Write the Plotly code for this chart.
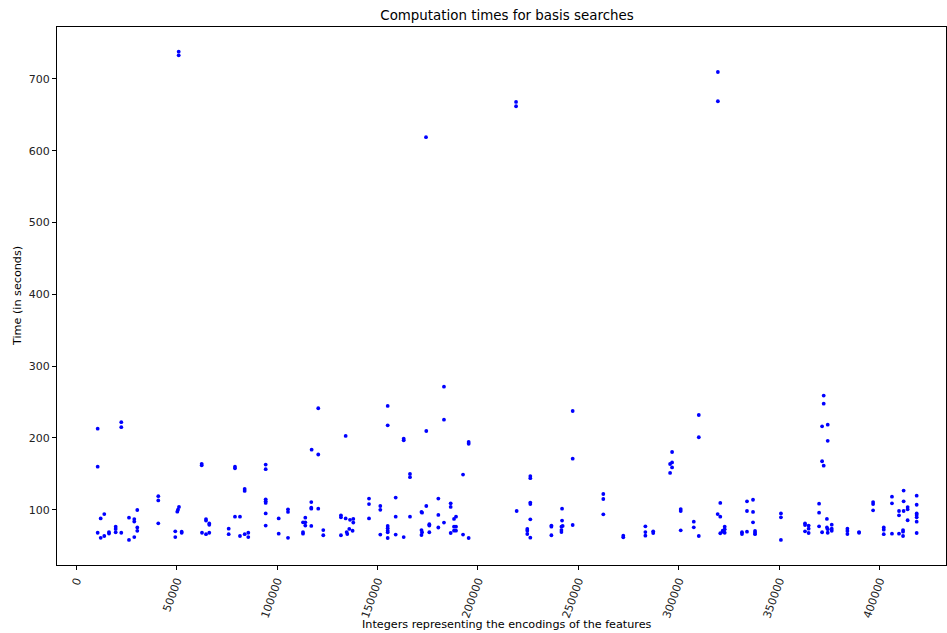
import plotly.graph_objects as go

# Encodings (x) and computation times in seconds (y)
encodings = [
    10660, 22410, 22410, 10660, 62450, 62450, 40840, 40840, 12150, 13940, 10660, 12150, 13940, 16290, 16290,
    19620, 19620, 19620, 22410, 26250, 26250, 28880, 28880, 28880, 30380, 30380, 30380, 40840, 49300, 49300,
    50300, 50650, 51150, 52490, 52490, 62600, 64600, 64600, 66230, 66230, 64600, 66230, 51000, 51000,
    75900, 75900, 79030, 79030, 79030, 81520, 81520, 83860, 83860, 83860, 85660, 85660, 94320, 94320, 94320,
    94320, 94320, 94320, 94320, 100800, 100800, 105430, 105430, 105430, 112900, 112900, 112900, 114050,
    114050, 114050, 117030, 117030, 117030, 117030, 117200, 120500, 120500, 120500, 123000, 123000, 134150,
    131800, 131800, 131800, 134150, 134650, 134950, 135950, 136300, 137950, 137950, 137600,
    145770, 145770, 145770, 151400, 151400, 151400, 155080, 155080, 155080, 155080, 155080, 155080, 155080,
    159060, 159060, 159060, 163050, 163050, 163050, 166180, 166180, 166180, 171900, 172200, 171900, 172200,
    171900, 174300, 174300, 175800, 175800, 175800, 180300, 180300, 180300, 183100, 183100, 183100, 186450,
    186450, 186450, 188100, 189100, 188100, 189100, 188100, 189100, 192600, 192600, 195400, 195400, 195400,
    174150,
    219300, 226100, 226100, 226100, 226100, 226100, 224600, 224600, 224600, 226100, 236600, 236600, 236600,
    241900, 241900, 241600, 242200, 241600, 241600, 247200, 247200, 247200, 262450, 262450, 262450, 272400,
    272400, 219000, 219000,
    283400, 283400, 283400, 287300, 287300, 296700, 295700, 296700, 296700, 295700, 301000, 301000, 301000,
    307500, 307500, 310000, 310000, 310000, 320700, 319400, 320700, 320700, 321900, 322900, 322900, 321900,
    322900, 331500, 331500, 334000, 334000, 334000, 337000, 337000, 337000, 338000, 338000, 338000,
    319500, 319500,
    350900, 350900, 350900, 362900, 362900, 364700, 364700, 362900, 364700, 372200, 372200, 371400, 374200,
    374200, 371400, 372200, 369900, 369900, 369900, 371400, 373800, 373800, 374200, 374200, 376200, 376200,
    376200, 384000, 384000, 384000, 389800, 389800, 396800, 396800, 396800, 402100, 402100, 402100, 406200,
    406200, 406200, 409700, 409700, 409700, 412000, 412000, 412000, 411700, 411700, 411700, 414000, 414000,
    414000, 418500, 418500, 418500, 418500, 418500, 418500, 418500,
]

times = [
    213, 222, 215, 160, 164, 162, 119, 113, 88, 94, 68, 61, 63.5, 69, 67,
    76.5, 73.3, 68.7, 68, 89, 58, 87, 83.6, 62, 99.7, 75.3, 70.7, 81.2, 70, 62,
    97.4, 100.1, 104, 69.5, 68, 68, 87, 85, 81, 79, 66, 68, 738, 733,
    73.7, 66, 160, 157.8, 90.4, 90.4, 63.5, 66, 129, 126.2, 68, 62, 163, 156.6, 114.6,
    111.8, 109.5, 95, 78, 88, 66.7, 100.7, 97, 61, 82.6, 69, 66.7, 89,
    82.6, 78, 110.8, 103, 101.5, 77.5, 183.7, 177, 241.4, 101.5, 71.8, 64.5, 202.8,
    92.3, 89.5, 64.5, 88, 69, 66.3, 73.3, 86, 87.3, 82.2, 70.8,
    115.6, 108, 88, 105.3, 100, 65.5, 244.6, 217.7, 77.5, 74.4, 70.9, 68.7, 60.7,
    117, 90.4, 65.5, 199, 196.8, 62, 150, 145.4, 90.4, 97, 96, 71.8, 68.7,
    64.9, 209.7, 105.3, 80, 78, 68.7, 115.6, 92.8, 75.3, 271.5, 225.5, 82.2, 109,
    104, 67.7, 87.3, 90.4, 76.5, 76.5, 70.9, 70.9, 149, 65.5, 194.4, 192, 60.7,
    619,
    98.3, 147, 144, 110, 108, 86.7, 73.3, 70.9, 66.3, 61.2, 78, 76.5, 64.5,
    101.5, 85, 76.5, 77.5, 71.8, 69, 237.6, 171.2, 78.8, 122, 115, 93.7, 63.9,
    61.7, 668, 662,
    77, 69, 63.9, 70, 67.7, 180.5, 163.8, 166, 159, 151.3, 101, 98.3, 71.4,
    83.4, 75.6, 232, 201, 63.5, 109.5, 94, 90.4, 67.3, 69.5, 76.5, 72.8, 70.9,
    68, 68.7, 66.3, 69.5, 111.8, 98.3, 114, 97, 82.6, 70.5, 68, 66,
    709.7, 669,
    95, 89.5, 58, 81.2, 78.8, 78, 73.7, 70, 67.7, 259, 247.8, 216.3, 218.5,
    196, 167.6, 161.4, 108.5, 96, 77, 68.7, 87.3, 75.3, 73, 68, 79.3, 73.7,
    70.8, 73.7, 70.5, 66.3, 69, 68, 110.8, 108, 99.3, 75.3, 72.3, 66, 118.3,
    109, 66.7, 98.3, 92.3, 66.7, 126.7, 111.8, 98.3, 71.8, 69.5, 63.5, 103.8, 100.7,
    85.4, 119.7, 107, 95, 92.8, 89.5, 83.4, 67.7,
]

x_ticks = [0, 50000, 100000, 150000, 200000, 250000, 300000, 350000, 400000]
y_ticks = [100, 200, 300, 400, 500, 600, 700]

FONT = "DejaVu Sans"
W, H = 947, 633
ML, MR, MT, MB = 57, 1, 27, 68
PW, PH = W - ML - MR, H - MT - MB

fig = go.Figure(
    go.Scatter(
        x=encodings, y=times, mode="markers",
        marker=dict(color="#0000ff", size=3.8, line=dict(width=0)),
        hoverinfo="x+y",
    )
)

axis_common = dict(
    showline=True, linecolor="black", linewidth=1, mirror=True,
    ticks="outside", ticklen=4, tickcolor="black", tickwidth=1,
    showgrid=False, zeroline=False, automargin=False,
    tickfont=dict(family=FONT, size=11, color="#222222"),
)

fig.update_layout(
    width=W, height=H,
    margin=dict(l=ML, r=MR, t=MT, b=MB, autoexpand=False),
    plot_bgcolor="white", paper_bgcolor="white",
    showlegend=False,
    title=dict(text="Computation times for basis searches", x=507 / W, xanchor="center",
               y=1 - 15 / H, yanchor="middle", font=dict(family=FONT, size=13.4, color="black")),
    xaxis=dict(**axis_common, range=[-9600, 433100], tickvals=x_ticks,
               ticktext=[str(v) for v in x_ticks], tickangle=-70),
    yaxis=dict(**axis_common, range=[23.1, 772.4], tickvals=y_ticks,
               ticktext=[str(v) for v in y_ticks]),
    annotations=[
        dict(text="Integers representing the encodings of the features", xref="paper", yref="paper",
             x=(507 - ML) / PW, y=-(624 - (MT + PH)) / PH, xanchor="center", yanchor="middle",
             showarrow=False, font=dict(family=FONT, size=11.2, color="black")),
        dict(text="Time (in seconds)", xref="paper", yref="paper",
             x=-(ML - 17) / PW, y=0.5, xanchor="center", yanchor="middle", textangle=-90,
             showarrow=False, font=dict(family=FONT, size=11.2, color="black")),
    ],
)

fig.write_html(
    "out.html",
    config={"displayModeBar": False},
    post_script="document.body.style.margin='0';document.body.style.overflow='hidden';",
)
